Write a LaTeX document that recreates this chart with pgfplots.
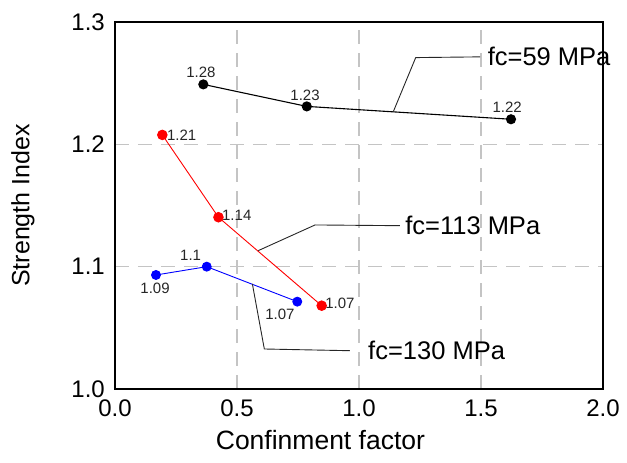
\documentclass[border=0pt]{standalone}
\usepackage{fontspec}
\setmainfont{Liberation Sans}
\usepackage{pgfplots}
\pgfplotsset{compat=1.18}
\begin{document}
\begin{tikzpicture}
\useasboundingbox (-115pt,-74pt) rectangle (512pt,389pt);
\begin{axis}[
  scale only axis, width=488pt, height=367pt,
  at={(0,0)}, anchor=south west,
  xmin=0, xmax=2, ymin=1.0, ymax=1.3,
  xtick={0,0.5,1,1.5,2}, ytick={1.0,1.1,1.2,1.3},
  major tick length=0pt,
  grid=major,
  major grid style={draw=black!23, line width=1.2pt, dash pattern=on 14pt off 9pt},
  axis line style={line width=1.2pt},
  clip=false,
  /pgf/number format/assume math mode=true,
  xticklabel style={/pgf/number format/fixed,/pgf/number format/fixed zerofill,/pgf/number format/precision=1,
     font=\fontsize{24}{28}\selectfont, inner sep=0pt, anchor=north, yshift=-11pt},
  yticklabel style={/pgf/number format/fixed,/pgf/number format/fixed zerofill,/pgf/number format/precision=1,
     font=\fontsize{24}{28}\selectfont, inner sep=0pt, anchor=east, xshift=-10pt},
  xlabel={Confinment factor},
  ylabel={Strength Index},
  xlabel style={font=\fontsize{26.5}{30}\selectfont, at={(axis description cs:0.421,-0.139)}, anchor=center},
  ylabel style={font=\fontsize{25}{29}\selectfont, at={(axis description cs:-0.1885,0.5)}, anchor=center},
]
% data series
\addplot[black, line width=1.1pt, mark=*, mark size=4.5pt] coordinates {(0.362,1.249) (0.786,1.231) (1.623,1.2205)};
\addplot[red, line width=0.9pt, mark=*, mark size=4.8pt] coordinates {(0.194,1.2077) (0.424,1.1404) (0.847,1.0681)};
\addplot[blue, line width=0.9pt, mark=*, mark size=4.5pt] coordinates {(0.168,1.0932) (0.376,1.1000) (0.747,1.0714)};
% leader lines
\addplot[black!85, line width=0.9pt, mark=none] coordinates {(1.1406,1.2267) (1.2324,1.2709) (1.496,1.2715)};
\addplot[black!85, line width=0.9pt, mark=none] coordinates {(0.587,1.1131) (0.820,1.1341) (1.168,1.1335)};
\addplot[black!85, line width=0.9pt, mark=none] coordinates {(0.563,1.0859) (0.612,1.0327) (0.963,1.0313)};
% annotation texts
\node[anchor=west, inner sep=0pt, font=\fontsize{25.5}{29}\selectfont] at (axis cs:1.527,1.2715) {fc=59 MPa};
\node[anchor=west, inner sep=0pt, font=\fontsize{25.5}{29}\selectfont] at (axis cs:1.189,1.1341) {fc=113 MPa};
\node[anchor=west, inner sep=0pt, font=\fontsize{25.5}{29}\selectfont] at (axis cs:1.037,1.0319) {fc=130 MPa};
% data labels
\begin{scope}[every node/.style={inner sep=0pt, font=\fontsize{15}{17}\selectfont, text=black!85}]
\node at (axis cs:0.352,1.2586) {1.28};
\node at (axis cs:0.779,1.2398) {1.23};
\node at (axis cs:1.607,1.2303) {1.22};
\node at (axis cs:0.273,1.2077) {1.21};
\node at (axis cs:0.499,1.1423) {1.14};
\node at (axis cs:0.922,1.0701) {1.07};
\node at (axis cs:0.164,1.0823) {1.09};
\node at (axis cs:0.310,1.1096) {1.1};
\node at (axis cs:0.676,1.0613) {1.07};
\end{scope}
\end{axis}
\end{tikzpicture}
\end{document}
